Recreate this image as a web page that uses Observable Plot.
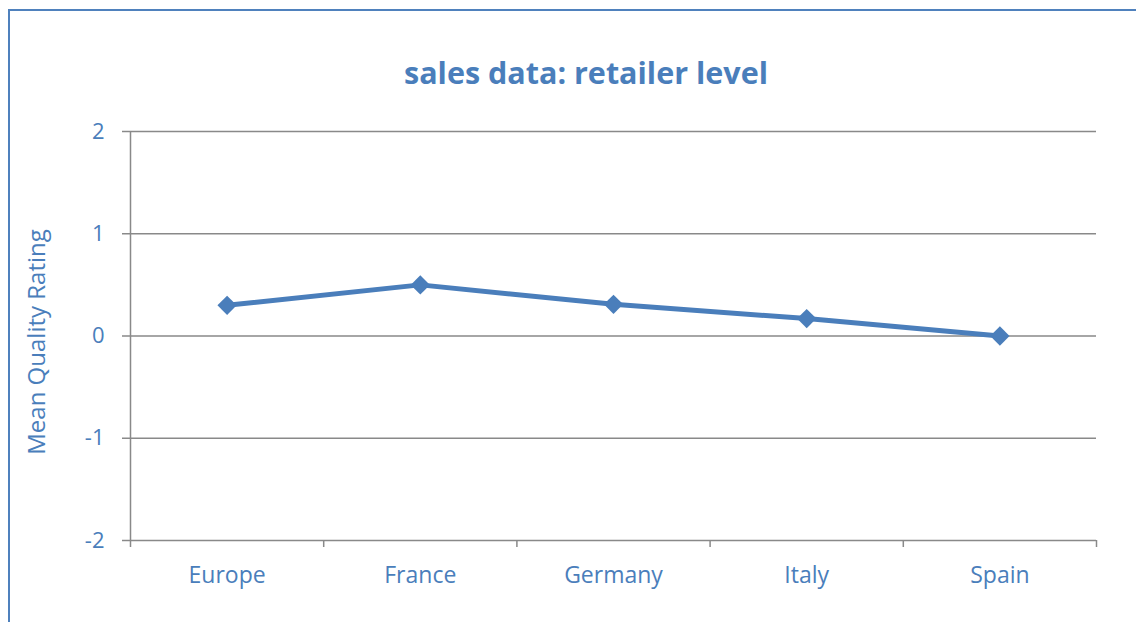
<!DOCTYPE html>
<html>
<head>
<meta charset="utf-8">
<script src="https://cdn.jsdelivr.net/npm/d3@7"></script>
<script src="https://cdn.jsdelivr.net/npm/@observablehq/plot@0.6"></script>
<style>
  html, body { margin: 0; padding: 0; background: #fff; overflow: hidden; }
  #wrap { position: relative; width: 1136px; height: 622px; overflow: hidden; }
  #frame { position: absolute; left: 8px; top: 9px; width: 1300px; height: 800px; border: 2px solid #4F81BD; }
  #title { position: absolute; left: 0; top: 50px; width: 1172px; height: 44px; line-height: 44px; text-align: center;
           font-family: "Open Sans", Lato, sans-serif; font-weight: bold; font-size: 30.5px; color: #4A7EBB; }
  #chart { position: absolute; left: 0; top: 100px; }
</style>
</head>
<body>
<div id="wrap">
  <div id="frame"></div>
  <div id="title">sales data: retailer level</div>
  <div id="chart"></div>
</div>
<script>
const categories = ["Europe", "France", "Germany", "Italy", "Spain"];
const values = [0.30, 0.50, 0.31, 0.17, 0.00];
const yTicks = [-2, -1, 0, 1, 2];
const yLabel = "Mean Quality Rating";

const data = categories.map((c, i) => ({category: c, pos: i + 0.5, value: values[i]}));
const boundaries = d3.range(categories.length + 1);

const blue = "#4A7EBB";
const gray = "#898989";

const chart = Plot.plot({
  width: 1136,
  height: 522,
  marginLeft: 130,
  marginRight: 40,
  marginTop: 31,
  marginBottom: 82,
  x: {domain: [0, categories.length]},
  y: {domain: [-2, 2]},
  style: {fontFamily: "'Open Sans', Lato, sans-serif", color: blue, background: "transparent", overflow: "visible"},
  marks: [
    Plot.gridY(yTicks, {stroke: gray, strokeOpacity: 1, strokeWidth: 1.5}),
    Plot.ruleX([0], {stroke: gray, strokeWidth: 1.5}),
    Plot.axisY(yTicks, {
      tickSize: 8, tickPadding: 18, stroke: gray, strokeWidth: 1.5, fontSize: 22, fill: blue,
      tickFormat: d => String(d), label: null
    }),
    Plot.text([yLabel], {
      frameAnchor: "left", rotate: -90, dx: -93, dy: 6, fontSize: 24, fill: blue, textAnchor: "middle"
    }),
    Plot.axisX(boundaries, {tickSize: 7, stroke: gray, strokeWidth: 1.5, tickFormat: () => "", label: null}),
    Plot.axisX(data.map(d => d.pos), {
      tickSize: 0, tickPadding: 26, fontSize: 23, fill: blue,
      tickFormat: p => categories[Math.floor(p)], label: null
    }),
    Plot.line(data, {x: "pos", y: "value", stroke: blue, strokeWidth: 5}),
    Plot.dot(data, {x: "pos", y: "value", symbol: "diamond2", r: 8.7, fill: blue, stroke: "none"})
  ]
});
document.getElementById("chart").appendChild(chart);
</script>
</body>
</html>
